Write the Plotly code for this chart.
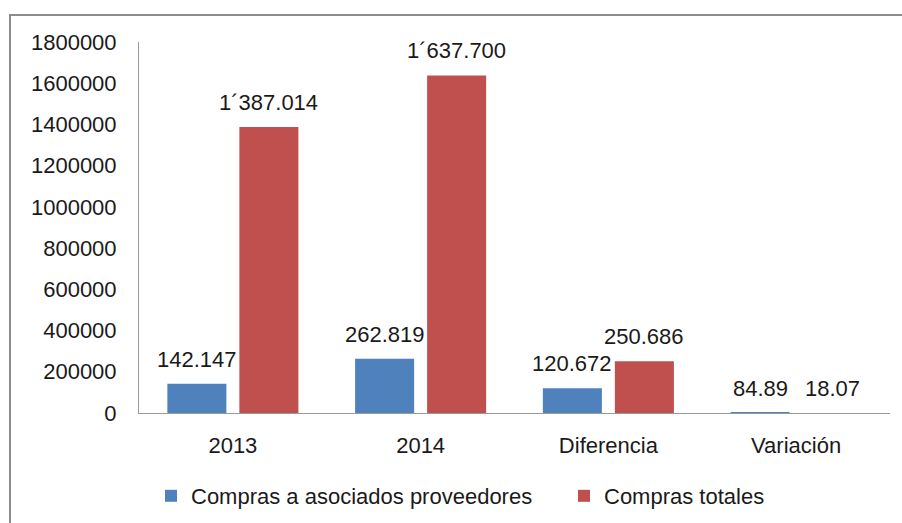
import plotly.graph_objects as go

categories = ["2013", "2014", "Diferencia", "Variación"]
asociados = [142147, 262819, 120672, 84.89]
totales = [1387014, 1637700, 250686, 18.07]
asociados_labels = ["142.147", "262.819", "120.672", "84.89"]
totales_labels = ["1´387.014", "1´637.700", "250.686", "18.07"]
y_ticks = [0, 200000, 400000, 600000, 800000, 1000000, 1200000, 1400000, 1600000, 1800000]

BLUE = "#4F81BD"
RED = "#C0504D"
FONT = "Liberation Sans"
TXT = "#1a1a1a"

fig = go.Figure()
fig.add_trace(go.Bar(name="Compras a asociados proveedores", x=categories, y=asociados,
                     marker=dict(color=BLUE, line=dict(width=0)), legend="legend"))
fig.add_trace(go.Bar(name="Compras totales", x=categories, y=totales,
                     marker=dict(color=RED, line=dict(width=0)), legend="legend2"))

annotations = []
for i, (v, lab) in enumerate(zip(asociados, asociados_labels)):
    annotations.append(dict(x=i, y=v, text=lab, xref="x", yref="y", showarrow=False,
                            xshift=-36, yshift=10, yanchor="bottom",
                            font=dict(family=FONT, size=22, color=TXT)))
for i, (v, lab) in enumerate(zip(totales, totales_labels)):
    annotations.append(dict(x=i, y=v, text=lab, xref="x", yref="y", showarrow=False,
                            xshift=36, yshift=10, yanchor="bottom",
                            font=dict(family=FONT, size=22, color=TXT)))

W, H = 902, 523
L, R, T, B = 139, 12, 42, 110
pw, ph = W - L - R, H - T - B

def px_x(p):
    return (p - L) / pw

def px_y(p):
    return (H - B - p) / ph

leg_common = dict(orientation="h", xanchor="left", yanchor="top",
                  font=dict(family=FONT, size=22, color=TXT),
                  bgcolor="rgba(0,0,0,0)")

fig.update_layout(
    width=W, height=H,
    margin=dict(l=L, r=R, t=T, b=B, pad=0, autoexpand=False),
    paper_bgcolor="white", plot_bgcolor="white",
    barmode="group", bargap=0.233, bargroupgap=0.18,
    font=dict(family=FONT, size=22, color=TXT),
    showlegend=True,
    legend=dict(x=px_x(151), y=px_y(475), **leg_common),
    legend2=dict(x=px_x(564), y=px_y(475), **leg_common),
    annotations=annotations,
    shapes=[dict(type="rect", xref="paper", yref="paper",
                 x0=px_x(10), x1=px_x(920), y0=px_y(540), y1=px_y(15),
                 line=dict(color="#8c8c8c", width=2), fillcolor="rgba(0,0,0,0)", layer="below")],
)
fig.update_xaxes(type="category", range=[-0.5, 3.5], showline=True, linecolor="#9a9a9a",
                 linewidth=1, showgrid=False, ticks="", ticklabelstandoff=13, automargin=False,
                 tickfont=dict(family=FONT, size=22, color=TXT))
fig.update_yaxes(range=[0, 1800000], tickvals=y_ticks, ticktext=[str(t) for t in y_ticks],
                 showline=True, linecolor="#9a9a9a", linewidth=1, showgrid=False,
                 zeroline=False, ticks="", ticklabelstandoff=17, automargin=False,
                 tickfont=dict(family=FONT, size=22, color=TXT))

fig.write_html("out.html", config={"displayModeBar": False},
               post_script="document.body.style.margin='0';document.body.style.overflow='hidden';")
